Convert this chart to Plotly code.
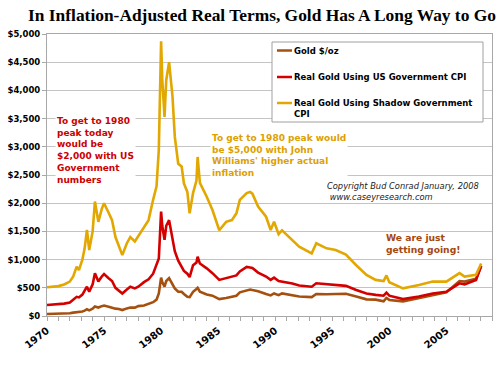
import plotly.graph_objects as go

years = [1970.0, 1970.5, 1971.0, 1971.5, 1972.0, 1972.3, 1972.6, 1972.8, 1973.1, 1973.3,
         1973.5, 1973.7, 1974.0, 1974.2, 1974.5, 1974.8, 1975.0, 1975.4, 1975.7, 1976.0,
         1976.3, 1976.6, 1977.0, 1977.3, 1977.7, 1978.0, 1978.5, 1978.9, 1979.3, 1979.6,
         1979.8, 1980.0, 1980.1, 1980.3, 1980.45, 1980.7, 1981.0, 1981.2, 1981.5, 1981.8,
         1982.0, 1982.3, 1982.5, 1982.8, 1983.1, 1983.2, 1983.4, 1984.0, 1984.5, 1985.1,
         1985.7, 1986.2, 1986.6, 1986.9, 1987.5, 1987.8, 1988.0, 1988.5, 1989.2, 1989.6,
         1989.9, 1990.3, 1990.6, 1991.5, 1992.1, 1993.2, 1993.6, 1994.5, 1995.3, 1996.2,
         1997.1, 1998.0, 1998.8, 1999.5, 1999.75, 2000.0, 2001.2, 2002.6, 2003.8, 2005.0,
         2006.15, 2006.6, 2007.6, 2008.05]

gold_nominal = [35, 36, 38, 42, 48, 60, 68, 65, 80, 95,
                120, 100, 130, 170, 150, 175, 185, 165, 145, 130,
                125, 105, 135, 150, 148, 175, 185, 210, 245, 290,
                400, 680, 600, 520, 620, 670, 560, 490, 430, 430,
                390, 340, 335, 430, 480, 500, 430, 380, 360, 300,
                320, 340, 360, 420, 450, 470, 460, 440, 390, 365,
                400, 370, 400, 360, 345, 335, 390, 385, 385, 395,
                345, 295, 290, 260, 320, 285, 260, 315, 375, 420,
                620, 610, 660, 880]

gold_us_cpi = [195, 200, 210, 220, 240, 290, 340, 330, 380, 450,
               520, 430, 560, 760, 610, 700, 745, 670, 620, 500,
               450, 400, 470, 520, 490, 520, 600, 650, 750, 900,
               1020, 1850, 1600, 1350, 1600, 1700, 1350, 1150, 980, 880,
               800, 750, 690, 900, 950, 1050, 930, 845, 760, 640,
               670, 690, 720, 790, 870, 860, 850, 770, 700, 640,
               680, 620, 610, 575, 540, 520, 580, 560, 550, 535,
               460, 400, 375, 360, 415, 360, 300, 345, 400, 430,
               580, 560, 640, 890]

gold_shadow_cpi = [510, 520, 530, 560, 610, 700, 875, 815, 1000, 1200,
                   1525, 1170, 1500, 2030, 1670, 1900, 2000, 1830, 1700, 1400,
                   1250, 1080, 1290, 1400, 1320, 1420, 1580, 1700, 2060, 2300,
                   2950, 4870, 4200, 3530, 4180, 4500, 3890, 3180, 2700, 2650,
                   2350, 2200, 1820, 2180, 2400, 2820, 2360, 2115, 1880, 1520,
                   1670, 1700, 1820, 2060, 2180, 2200, 2170, 1940, 1760, 1525,
                   1670, 1450, 1520, 1350, 1230, 1110, 1290, 1200, 1170, 1090,
                   900, 730, 640, 620, 720, 600, 490, 550, 610, 610,
                   760, 700, 730, 930]

series_names = ["Gold $/oz", "Real Gold Using US Government CPI",
                "Real Gold Using Shadow Government<br>CPI"]

x_tick_vals = [1970, 1975, 1980, 1985, 1990, 1995, 2000, 2005]
x_tick_text = ["1970", "1975", "1980", "1985", "1990", "1995", "2000", "2005"]
y_tick_vals = [0, 500, 1000, 1500, 2000, 2500, 3000, 3500, 4000, 4500, 5000]

BROWN = "#A5500F"
RED = "#D40000"
GOLD = "#E2A700"
colors = [BROWN, RED, GOLD]
FONT = "DejaVu Sans"

# plot area in pixels
L, R, T, B = 47, 492, 34, 316
W, H = R - L, B - T


def px(xp):
    return (xp - L) / W


def py(yp):
    return (B - yp) / H


fig = go.Figure()
for vals, name, col in zip([gold_nominal, gold_us_cpi, gold_shadow_cpi], series_names, colors):
    fig.add_trace(go.Scatter(x=years, y=vals, mode="lines", name=name,
                             line=dict(color=col, width=2.6), showlegend=False))

fig.update_layout(
    width=500, height=366,
    margin=dict(l=L, r=500 - R, t=T, b=366 - B),
    paper_bgcolor="white", plot_bgcolor="white",
    title=dict(text="<b>In Inflation-Adjusted Real Terms, Gold Has A Long Way to Go</b>",
               font=dict(family="Liberation Serif", size=17.4, color="black"),
               xref="container", x=0.524, xanchor="center", yref="container",
               y=0.958, yanchor="middle"),
    font=dict(family=FONT, color="black"),
    showlegend=False,
    xaxis=dict(range=[1970, 2009], tickvals=x_tick_vals, ticktext=x_tick_text,
               tickangle=-38, tickfont=dict(family=FONT, size=10, weight="bold"),
               showgrid=False, showline=True, linecolor="#a8a8a8", mirror=True,
               ticks="outside", ticklen=4, tickcolor="#a8a8a8",
               minor=dict(dtick=1, ticks="outside", ticklen=4, tickcolor="#a8a8a8"),
               zeroline=False, automargin=False),
    yaxis=dict(range=[0, 5000], tickvals=y_tick_vals, tickformat="$,.0f",
               tickfont=dict(family=FONT, size=8.5, weight="bold"),
               showgrid=True, gridcolor="#c4c4c4", gridwidth=1,
               showline=True, linecolor="#a8a8a8", mirror=True,
               ticks="outside", ticklen=4, tickcolor="#a8a8a8", zeroline=False,
               automargin=False),
)

# legend box (drawn manually to match the compact original)
fig.add_shape(type="rect", xref="paper", yref="paper",
              x0=px(272), x1=px(483), y0=py(122), y1=py(42),
              fillcolor="white", line=dict(color="#a0a0a0", width=1), layer="above")
legend_y = [50.5, 77, 103]
for yy, name, col in zip(legend_y, series_names, colors):
    fig.add_shape(type="line", xref="paper", yref="paper",
                  x0=px(277), x1=px(292), y0=py(yy), y1=py(yy),
                  line=dict(color=col, width=2.5), layer="above")
    fig.add_annotation(xref="paper", yref="paper", x=px(293), y=py(yy - 6),
                       xanchor="left", yanchor="top", align="left", showarrow=False,
                       text=name, borderpad=0,
                       font=dict(family=FONT, size=8.5, color="black", weight="bold"))

fig.add_annotation(xref="paper", yref="paper", x=px(55), y=py(114),
                   xanchor="left", yanchor="top", align="left", showarrow=False,
                   bgcolor="white", borderpad=1,
                   text="To get to 1980<br>peak today<br>would be<br>$2,000 with US<br>Government<br>numbers",
                   font=dict(family=FONT, size=9, color="#CC0000", weight="bold"))
fig.add_annotation(xref="paper", yref="paper", x=px(210), y=py(131),
                   xanchor="left", yanchor="top", align="left", showarrow=False,
                   bgcolor="white", borderpad=1,
                   text="To get to 1980 peak would<br>be $5,000 with John<br>Williams' higher actual<br>inflation",
                   font=dict(family=FONT, size=9, color="#DDA000", weight="bold"))
fig.add_annotation(xref="paper", yref="paper", x=px(325), y=py(179),
                   xanchor="left", yanchor="top", align="left", showarrow=False,
                   text="<i>Copyright Bud Conrad January, 2008</i><br><i> www.caseyresearch.com</i>",
                   font=dict(family=FONT, size=8.3, color="#222222"))
fig.add_annotation(xref="paper", yref="paper", x=px(384), y=py(230),
                   xanchor="left", yanchor="top", align="left", showarrow=False,
                   text="We are just<br>getting going!",
                   font=dict(family=FONT, size=9.2, color="#A5480F", weight="bold"))

fig.write_html("out.html", config={"displayModeBar": False},
               post_script="document.body.style.margin='0px';document.body.style.padding='0px';")
